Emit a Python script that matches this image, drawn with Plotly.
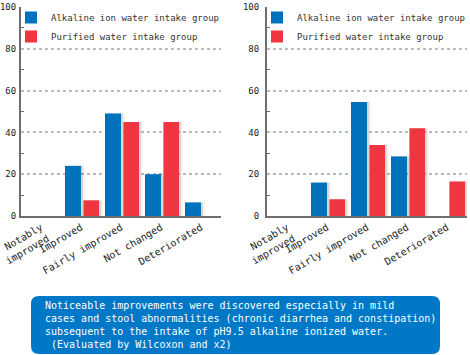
import plotly.graph_objects as go

categories = ["Notably<br>improved", "Improved", "Fairly improved", "Not changed", "Deteriorated"]
left_alkaline = [0, 24, 49, 20, 6.5]
left_purified = [0, 7.5, 45, 45, 0]
right_alkaline = [0, 16, 54.5, 28.5, 0]
right_purified = [0, 8, 34, 42, 16.5]
series_names = ["Alkaline ion water intake group", "Purified water intake group"]
y_ticks = [0, 20, 40, 60, 80, 100]
y_minor = [10, 30, 50, 70, 90]
note_lines = [
    "Noticeable improvements were discovered especially in mild",
    "cases and stool abnormalities (chronic diarrhea and constipation)",
    "subsequent to the intake of pH9.5 alkaline ionized water.",
    "\u00a0(Evaluated by Wilcoxon and x2)",
]

W, H = 470, 355
BLUE = "#0072BC"
RED = "#EE3540"
AX = "#6e6e6e"
FONT = "DejaVu Sans Mono"

def px(x):
    return x / W

def py(y):
    return 1 - y / H

fig = go.Figure()

panels = [
    ("x", "y", left_alkaline, left_purified, "legend"),
    ("x2", "y2", right_alkaline, right_purified, "legend2"),
]
for xa, ya, alk, pur, leg in panels:
    # soft shadows
    for shift, alpha in [(0.09, 0.06), (0.05, 0.10)]:
        for vals, off, wid in [(alk, -0.4, 0.4), (pur, 0.06, 0.39)]:
            fig.add_trace(go.Bar(x=categories, y=vals, xaxis=xa, yaxis=ya,
                                 offset=off + shift, width=wid,
                                 marker=dict(color=f"rgba(0,0,0,{alpha})", line=dict(width=0)),
                                 showlegend=False, hoverinfo="skip"))
    fig.add_trace(go.Bar(x=categories, y=alk, xaxis=xa, yaxis=ya, name=series_names[0],
                         offset=-0.4, width=0.4, legend=leg,
                         marker=dict(color=BLUE, line=dict(width=0))))
    fig.add_trace(go.Bar(x=categories, y=pur, xaxis=xa, yaxis=ya, name=series_names[1],
                         offset=0.06, width=0.39, legend=leg,
                         marker=dict(color=RED, line=dict(width=0))))

xcommon = dict(showline=True, linecolor=AX, linewidth=2, tickangle=-30, ticks="",
               tickfont=dict(family=FONT, size=10, color="#222"), showgrid=False,
               type="category", range=[-0.5, 4.5], fixedrange=True, automargin=False,
               ticklabeloverflow="allow")
ycommon = dict(range=[0, 100], tickvals=y_ticks, showline=True, linecolor=AX, linewidth=2,
               showgrid=True, gridcolor="#bbbbbb", griddash="dot", gridwidth=1.5,
               ticks="inside", ticklen=0, tickcolor=AX,
               minor=dict(tickvals=y_minor, ticks="inside", ticklen=3, tickcolor=AX, showgrid=False),
               tickfont=dict(family=FONT, size=9, color="#222"), zeroline=False,
               fixedrange=True, automargin=False, ticklabeloverflow="allow")

dom_y = [py(216), py(7)]
fig.update_layout(
    width=W, height=H, autosize=False,
    margin=dict(l=0, r=0, t=0, b=0, autoexpand=False),
    paper_bgcolor="white", plot_bgcolor="white",
    barmode="overlay", showlegend=True,
    xaxis=dict(domain=[px(21), px(221)], anchor="y", **xcommon),
    yaxis=dict(domain=dom_y, anchor="x", ticklabelstandoff=1, **ycommon),
    xaxis2=dict(domain=[px(267), px(467)], anchor="y2", **xcommon),
    yaxis2=dict(domain=dom_y, anchor="x2", ticklabelstandoff=4, **ycommon),
    legend=dict(x=px(11), y=py(3), xanchor="left", yanchor="top",
                bgcolor="rgba(0,0,0,0)", font=dict(family=FONT, size=9, color="#333"),
                tracegroupgap=0, itemclick=False),
    legend2=dict(x=px(257), y=py(3), xanchor="left", yanchor="top",
                 bgcolor="rgba(0,0,0,0)", font=dict(family=FONT, size=9, color="#333"),
                 tracegroupgap=0, itemclick=False),
)

# rounded note box
x0, x1, y0, y1, r = 31, 440, 296, 354, 8
path = (f"M {px(x0 + r)},{py(y0)} L {px(x1 - r)},{py(y0)} Q {px(x1)},{py(y0)} {px(x1)},{py(y0 + r)} "
        f"L {px(x1)},{py(y1 - r)} Q {px(x1)},{py(y1)} {px(x1 - r)},{py(y1)} "
        f"L {px(x0 + r)},{py(y1)} Q {px(x0)},{py(y1)} {px(x0)},{py(y1 - r)} "
        f"L {px(x0)},{py(y0 + r)} Q {px(x0)},{py(y0)} {px(x0 + r)},{py(y0)} Z")
fig.add_shape(type="path", path=path, xref="paper", yref="paper",
              fillcolor="#0078C8", line=dict(width=0), layer="below")
fig.add_annotation(text="<br>".join(note_lines), xref="paper", yref="paper",
                   x=px(43), y=py(298), xanchor="left", yanchor="top", align="left",
                   showarrow=False, font=dict(family=FONT, size=10, color="white"))

fig.write_html("out.html", config=dict(displayModeBar=False),
               post_script="document.body.style.margin='0';document.body.style.padding='0';")
